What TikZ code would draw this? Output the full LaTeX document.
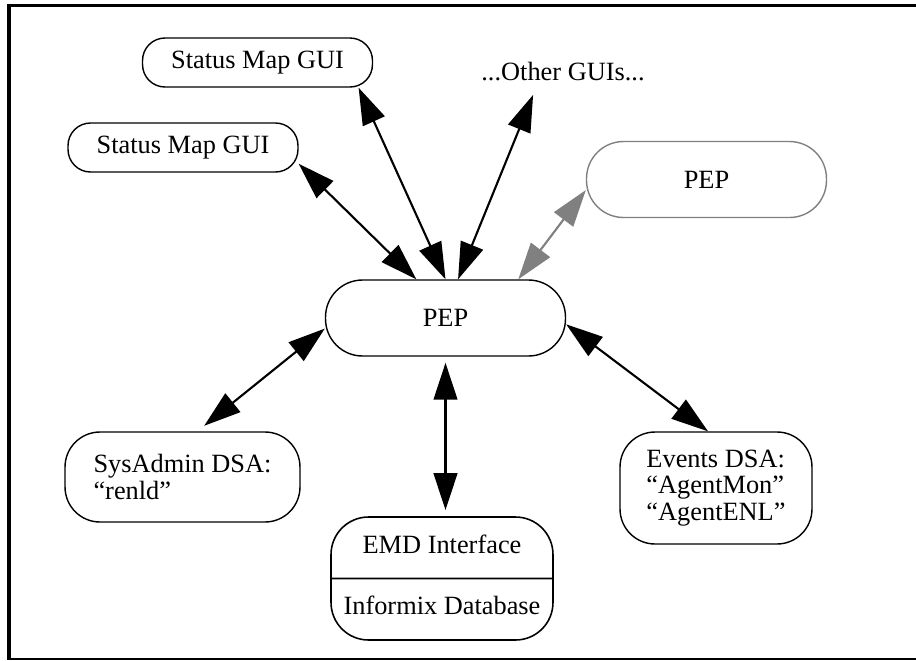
\documentclass[tikz,border=0pt]{standalone}
\usepackage{fontspec}
\setmainfont{Liberation Serif}
\usetikzlibrary{arrows.meta, shapes.multipart}

\begin{document}
\begin{tikzpicture}[
    x=0.02cm, y=-0.02cm,
    every node/.style={font=\fontsize{15}{15.1}\selectfont},
    box/.style={draw, line width=0.8pt, rounded corners=0.7cm, align=left},
    gui/.style={box, rounded corners=0.45cm, minimum width=4.6cm, minimum height=0.98cm},
    pepbox/.style={box, rounded corners=0.74cm, minimum width=4.8cm, minimum height=1.52cm},
    arr/.style={{Triangle[length=21pt, width=13.5pt]}-{Triangle[length=21pt, width=13.5pt]}, line width=1.2pt},
  ]
    \useasboundingbox (0,0) rectangle (916,660);

    % Frame
    \draw[line width=2.2pt] (9,660) -- (9,5.5) -- (916,5.5);
    \draw[line width=1.1pt] (9,659) -- (916,659);

    % GUIs on top
    \node[gui] (gui1) at (257.5,62.5) {Status Map GUI};
    \node[gui] (gui2) at (183,147.5) {Status Map GUI};
    \node (others) at (563,72) {...Other GUIs...};

    % PEPs
    \node[pepbox, draw=gray] (pep2) at (706.5,179.5) {PEP};
    \node[pepbox] (pep) at (445.5,318) {PEP};

    % DSAs and database
    \node[box, minimum width=4.7cm, minimum height=1.8cm] (sysdsa) at (182.5,477) {SysAdmin DSA:\\“renld”};
    \node[draw, line width=0.9pt, rounded corners=0.75cm, rectangle split, rectangle split parts=2,
          minimum width=4.44cm, inner ysep=9.5pt] (emd) at (442,578.5)
          {\strut EMD Interface \nodepart{two} \strut Informix Database};
    \node[box, minimum width=3.84cm, minimum height=2.24cm] (evdsa) at (716,488) {Events DSA:\\“AgentMon”\\“AgentENL”};

    % Arrows
    \draw[arr] (gui2.-8) -- (pep.127);
    \draw[arr] (gui1.-14) -- (pep.north);
    \draw[arr, shorten <=4.5pt] (others.210) -- (pep.72);
    \draw[arr, gray] (pep2.185) -- (pep.28);
    \draw[arr, shorten >=5pt] (pep.185) -- (sysdsa.72);
    \draw[arr, shorten <=3.5pt, shorten >=3.5pt] (pep.south) -- (pep.south |- emd.north);
    \draw[arr] (pep.-3) -- (evdsa.98);
  \end{tikzpicture}
\end{document}
